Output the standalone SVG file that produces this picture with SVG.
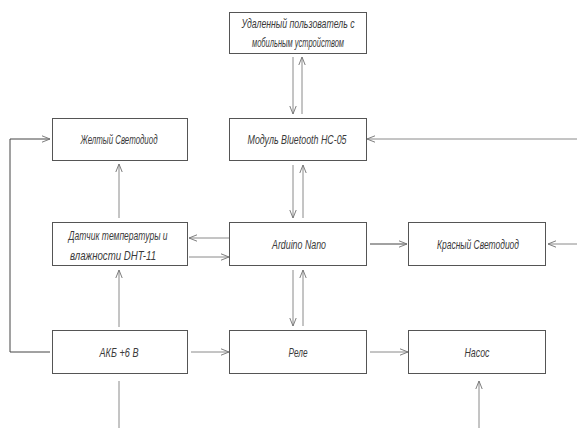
<svg xmlns="http://www.w3.org/2000/svg" width="577" height="428" viewBox="0 0 577 428">
<style>
.box{fill:#fff;stroke:#555;stroke-width:1}
.t{font-family:"Liberation Sans",Arial,sans-serif;font-style:italic;font-size:13px;fill:#3a3a3a;text-anchor:middle}
.c{fill:none;stroke:#8a8a8a;stroke-width:1}
.d{fill:none;stroke:#444;stroke-width:1}
</style>
<defs>
<marker id="a" viewBox="0 0 10 10" refX="10" refY="5" markerWidth="8" markerHeight="8" markerUnits="userSpaceOnUse" orient="auto">
<path d="M0,1 L10,5 L0,9" fill="none" stroke="#777" stroke-width="1.2"/>
</marker>
</defs>
<rect width="577" height="428" fill="#fff"/>
<g id="connectors">
<line class="c" x1="293" y1="57" x2="293" y2="114" marker-end="url(#a)"/>
<line class="c" x1="302" y1="114" x2="302" y2="57" marker-end="url(#a)"/>
<line class="c" x1="577" y1="139" x2="367" y2="139" marker-end="url(#a)"/>
<line class="c" x1="293" y1="165" x2="293" y2="218" marker-end="url(#a)"/>
<line class="c" x1="303" y1="218" x2="303" y2="165" marker-end="url(#a)"/>
<line class="c" x1="119" y1="218" x2="119" y2="164" marker-end="url(#a)"/>
<line class="c" x1="229" y1="238" x2="189" y2="238" marker-end="url(#a)"/>
<line class="c" x1="189" y1="257" x2="229" y2="257" marker-end="url(#a)"/>
<line class="d" x1="370" y1="244" x2="407" y2="244" marker-end="url(#a)"/>
<line class="c" x1="577" y1="244" x2="548" y2="244" marker-end="url(#a)"/>
<line class="c" x1="293" y1="270" x2="293" y2="326" marker-end="url(#a)"/>
<line class="c" x1="303" y1="326" x2="303" y2="270" marker-end="url(#a)"/>
<line class="c" x1="119" y1="327" x2="119" y2="270" marker-end="url(#a)"/>
<polyline class="d" points="50,352 10,352 10,139 50,139" marker-end="url(#a)"/>
<line class="c" x1="191" y1="352" x2="229" y2="352" marker-end="url(#a)"/>
<line class="c" x1="370" y1="352" x2="408" y2="352" marker-end="url(#a)"/>
<line class="c" x1="119" y1="381" x2="119" y2="428"/>
<line class="c" x1="479" y1="428" x2="479" y2="381" marker-end="url(#a)"/>
</g>
<g id="remote-user">
<rect class="box" x="229.5" y="12.5" width="137" height="41"/>
<text class="t" x="298" y="28" textLength="113" lengthAdjust="spacingAndGlyphs">Удаленный пользователь с</text>
<text class="t" x="298" y="47" textLength="92" lengthAdjust="spacingAndGlyphs">мобильным устройством</text>
</g>
<g id="yellow-led">
<rect class="box" x="52.5" y="118.5" width="135" height="42"/>
<text class="t" x="119" y="144" textLength="77" lengthAdjust="spacingAndGlyphs">Желтый Светодиод</text>
</g>
<g id="bluetooth">
<rect class="box" x="229.5" y="118.5" width="137" height="42"/>
<text class="t" x="297" y="144" textLength="99" lengthAdjust="spacingAndGlyphs">Модуль Bluetooth HC-05</text>
</g>
<g id="dht11">
<rect class="box" x="52.5" y="222.5" width="135" height="43"/>
<text class="t" x="118" y="240" textLength="99" lengthAdjust="spacingAndGlyphs">Датчик температуры и</text>
<text class="t" x="113" y="260" textLength="86" lengthAdjust="spacingAndGlyphs">влажности DHT-11</text>
</g>
<g id="arduino">
<rect class="box" x="229.5" y="222.5" width="137" height="43"/>
<text class="t" x="299" y="249" textLength="54" lengthAdjust="spacingAndGlyphs">Arduino Nano</text>
</g>
<g id="red-led">
<rect class="box" x="408.5" y="222.5" width="137" height="43"/>
<text class="t" x="478" y="249" textLength="82" lengthAdjust="spacingAndGlyphs">Красный Светодиод</text>
</g>
<g id="battery">
<rect class="box" x="52.5" y="330.5" width="135" height="43"/>
<text class="t" x="119" y="357" textLength="39" lengthAdjust="spacingAndGlyphs">АКБ +6 В</text>
</g>
<g id="relay">
<rect class="box" x="229.5" y="330.5" width="137" height="43"/>
<text class="t" x="298" y="357" textLength="19" lengthAdjust="spacingAndGlyphs">Реле</text>
</g>
<g id="pump">
<rect class="box" x="408.5" y="330.5" width="137" height="43"/>
<text class="t" x="477" y="357" textLength="25" lengthAdjust="spacingAndGlyphs">Насос</text>
</g>
</svg>
